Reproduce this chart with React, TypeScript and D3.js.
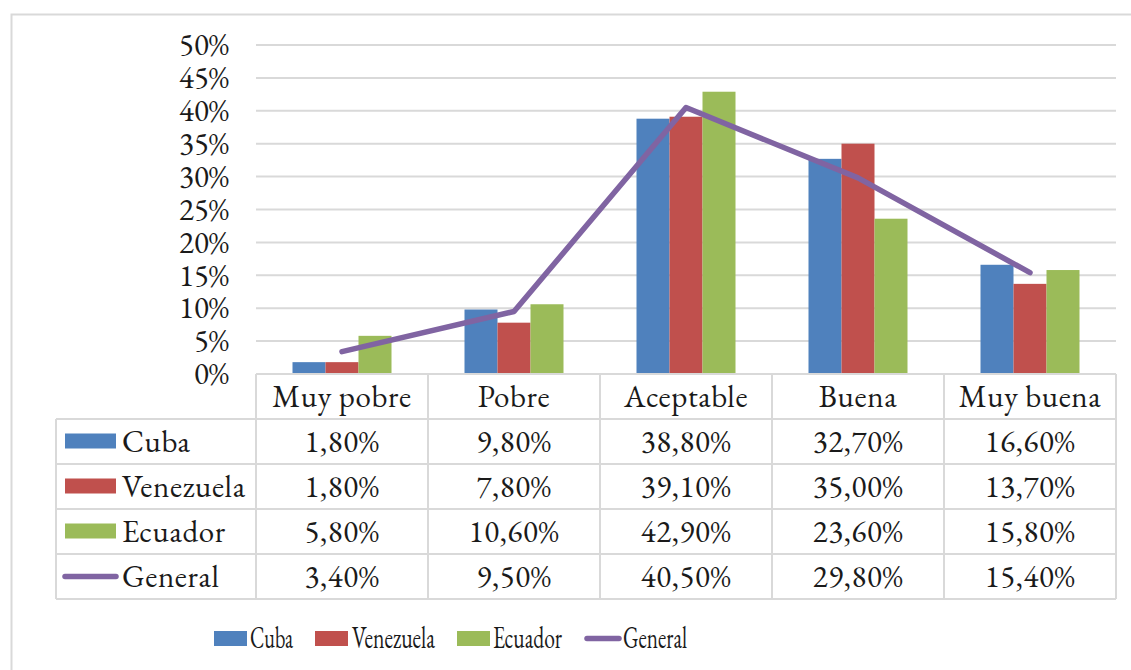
import React from "react";
import * as d3 from "d3";

const categories = ["Muy pobre", "Pobre", "Aceptable", "Buena", "Muy buena"];
const seriesNames = ["Cuba", "Venezuela", "Ecuador"];
const cuba = [0.018, 0.098, 0.388, 0.327, 0.166];
const venezuela = [0.018, 0.078, 0.391, 0.35, 0.137];
const ecuador = [0.058, 0.106, 0.429, 0.236, 0.158];
const general = [0.034, 0.095, 0.405, 0.298, 0.154];
const yTicks = [0, 0.05, 0.1, 0.15, 0.2, 0.25, 0.3, 0.35, 0.4, 0.45, 0.5];
const barColors = ["#4F81BD", "#C0504D", "#9BBB59"];
const lineColor = "#8064A2";

const W = 1131;
const H = 670;
const FONT = '"EB Garamond", "Liberation Serif", serif';
const GRID = "#D9D9D9";
const FS = 31;
const TXT = "#1a1a1a";

const fmtTick = (v: number) => `${Math.round(v * 100)}%`;
const fmtVal = (v: number) => (v * 100).toFixed(2).replace(".", ",") + "%";

export default function App() {
  const x = d3.scaleBand<string>().domain(categories).range([256, 1116]).padding(0);
  const y = d3.scaleLinear().domain([0, 0.5]).range([374, 45]);
  const xs = d3.scaleBand<string>().domain(seriesNames).range([-49.5, 49.5]).padding(0);
  const seriesValues = [cuba, venezuela, ecuador];
  const cx = (c: string) => (x(c) as number) + x.bandwidth() / 2;

  const line = d3
    .line<number>()
    .x((_, i) => cx(categories[i]))
    .y((d) => y(d));

  const headerTop = 374;
  const headerBottom = 419;
  const rowH = 45;
  const tableLeft = 56;
  const rows = [
    { name: "Cuba", values: cuba, kind: "bar", color: barColors[0] },
    { name: "Venezuela", values: venezuela, kind: "bar", color: barColors[1] },
    { name: "Ecuador", values: ecuador, kind: "bar", color: barColors[2] },
    { name: "General", values: general, kind: "line", color: lineColor },
  ];
  const tableBottom = headerBottom + rowH * rows.length;

  const legendItems = [
    { name: "Cuba", kind: "bar", color: barColors[0], sx: 214, tx: 250, tl: 43 },
    { name: "Venezuela", kind: "bar", color: barColors[1], sx: 315, tx: 352, tl: 83 },
    { name: "Ecuador", kind: "bar", color: barColors[2], sx: 457, tx: 493, tl: 69 },
    { name: "General", kind: "line", color: lineColor, sx: 585, tx: 623, tl: 64 },
  ];

  const ts = { fontFamily: FONT } as React.CSSProperties;

  return (
    <svg
      width={W}
      height={H}
      style={{ position: "absolute", left: 0, top: 0, background: "#fff", fontFamily: FONT }}
    >
      <rect x={0} y={0} width={W} height={H} fill="#fff" />
      <rect x={11.5} y={14.5} width={W + 20} height={H + 20} fill="none" stroke={GRID} strokeWidth={2} />

      {/* gridlines */}
      {yTicks.slice(1).map((t) => (
        <line key={t} x1={256} x2={1116} y1={y(t)} y2={y(t)} stroke={GRID} strokeWidth={2} />
      ))}
      {/* y labels */}
      {yTicks.map((t) => (
        <text key={t} x={229} y={y(t)} dy="0.33em" textAnchor="end" fontSize={FS} fill={TXT} style={ts}>
          {fmtTick(t)}
        </text>
      ))}

      {/* bars */}
      {seriesValues.map((vals, si) =>
        vals.map((v, ci) => (
          <rect
            key={`${si}-${ci}`}
            x={cx(categories[ci]) + (xs(seriesNames[si]) as number)}
            width={xs.bandwidth()}
            y={y(v)}
            height={y(0) - y(v)}
            fill={barColors[si]}
          />
        ))
      )}

      {/* general line */}
      <path
        d={line(general) as string}
        fill="none"
        stroke={lineColor}
        strokeWidth={5.5}
        strokeLinecap="round"
        strokeLinejoin="round"
      />

      {/* data table */}
      <g stroke={GRID} strokeWidth={2}>
        <line x1={256} x2={1116} y1={headerTop} y2={headerTop} />
        {d3.range(rows.length + 1).map((i) => (
          <line key={i} x1={tableLeft} x2={1116} y1={headerBottom + i * rowH} y2={headerBottom + i * rowH} />
        ))}
        <line x1={tableLeft} x2={tableLeft} y1={headerBottom} y2={tableBottom} />
        {categories.map((c) => (
          <line key={c} x1={x(c) as number} x2={x(c) as number} y1={headerTop} y2={tableBottom} />
        ))}
        <line x1={1116} x2={1116} y1={headerTop} y2={tableBottom} />
      </g>
      {categories.map((c) => (
        <text key={c} x={cx(c)} y={(headerTop + headerBottom) / 2} dy="0.33em" textAnchor="middle" fontSize={FS} fill={TXT} style={ts} letterSpacing={0.6}>
          {c}
        </text>
      ))}
      {rows.map((r, ri) => {
        const yc = headerBottom + ri * rowH + rowH / 2;
        return (
          <g key={r.name}>
            {r.kind === "bar" ? (
              <rect x={65} y={yc - 8} width={51} height={15} fill={r.color} />
            ) : (
              <line x1={65} x2={116} y1={yc} y2={yc} stroke={r.color} strokeWidth={5.5} strokeLinecap="round" />
            )}
            <text x={122} y={yc} dy="0.33em" fontSize={FS} fill={TXT} style={ts} letterSpacing={0.6}>
              {r.name}
            </text>
            {r.values.map((v, ci) => (
              <text key={ci} x={cx(categories[ci])} y={yc} dy="0.33em" textAnchor="middle" fontSize={FS} fill={TXT} style={ts} letterSpacing={0.6}>
                {fmtVal(v)}
              </text>
            ))}
          </g>
        );
      })}

      {/* legend */}
      {legendItems.map((l) => (
        <g key={l.name}>
          {l.kind === "bar" ? (
            <rect x={l.sx} y={631} width={33} height={15} fill={l.color} />
          ) : (
            <line x1={l.sx + 2} x2={l.sx + 34} y1={638.5} y2={638.5} stroke={l.color} strokeWidth={5.5} strokeLinecap="round" />
          )}
          <text x={l.tx} y={648} fontSize={FS} fill={TXT} style={ts} textLength={l.tl} lengthAdjust="spacingAndGlyphs">
            {l.name}
          </text>
        </g>
      ))}
    </svg>
  );
}
